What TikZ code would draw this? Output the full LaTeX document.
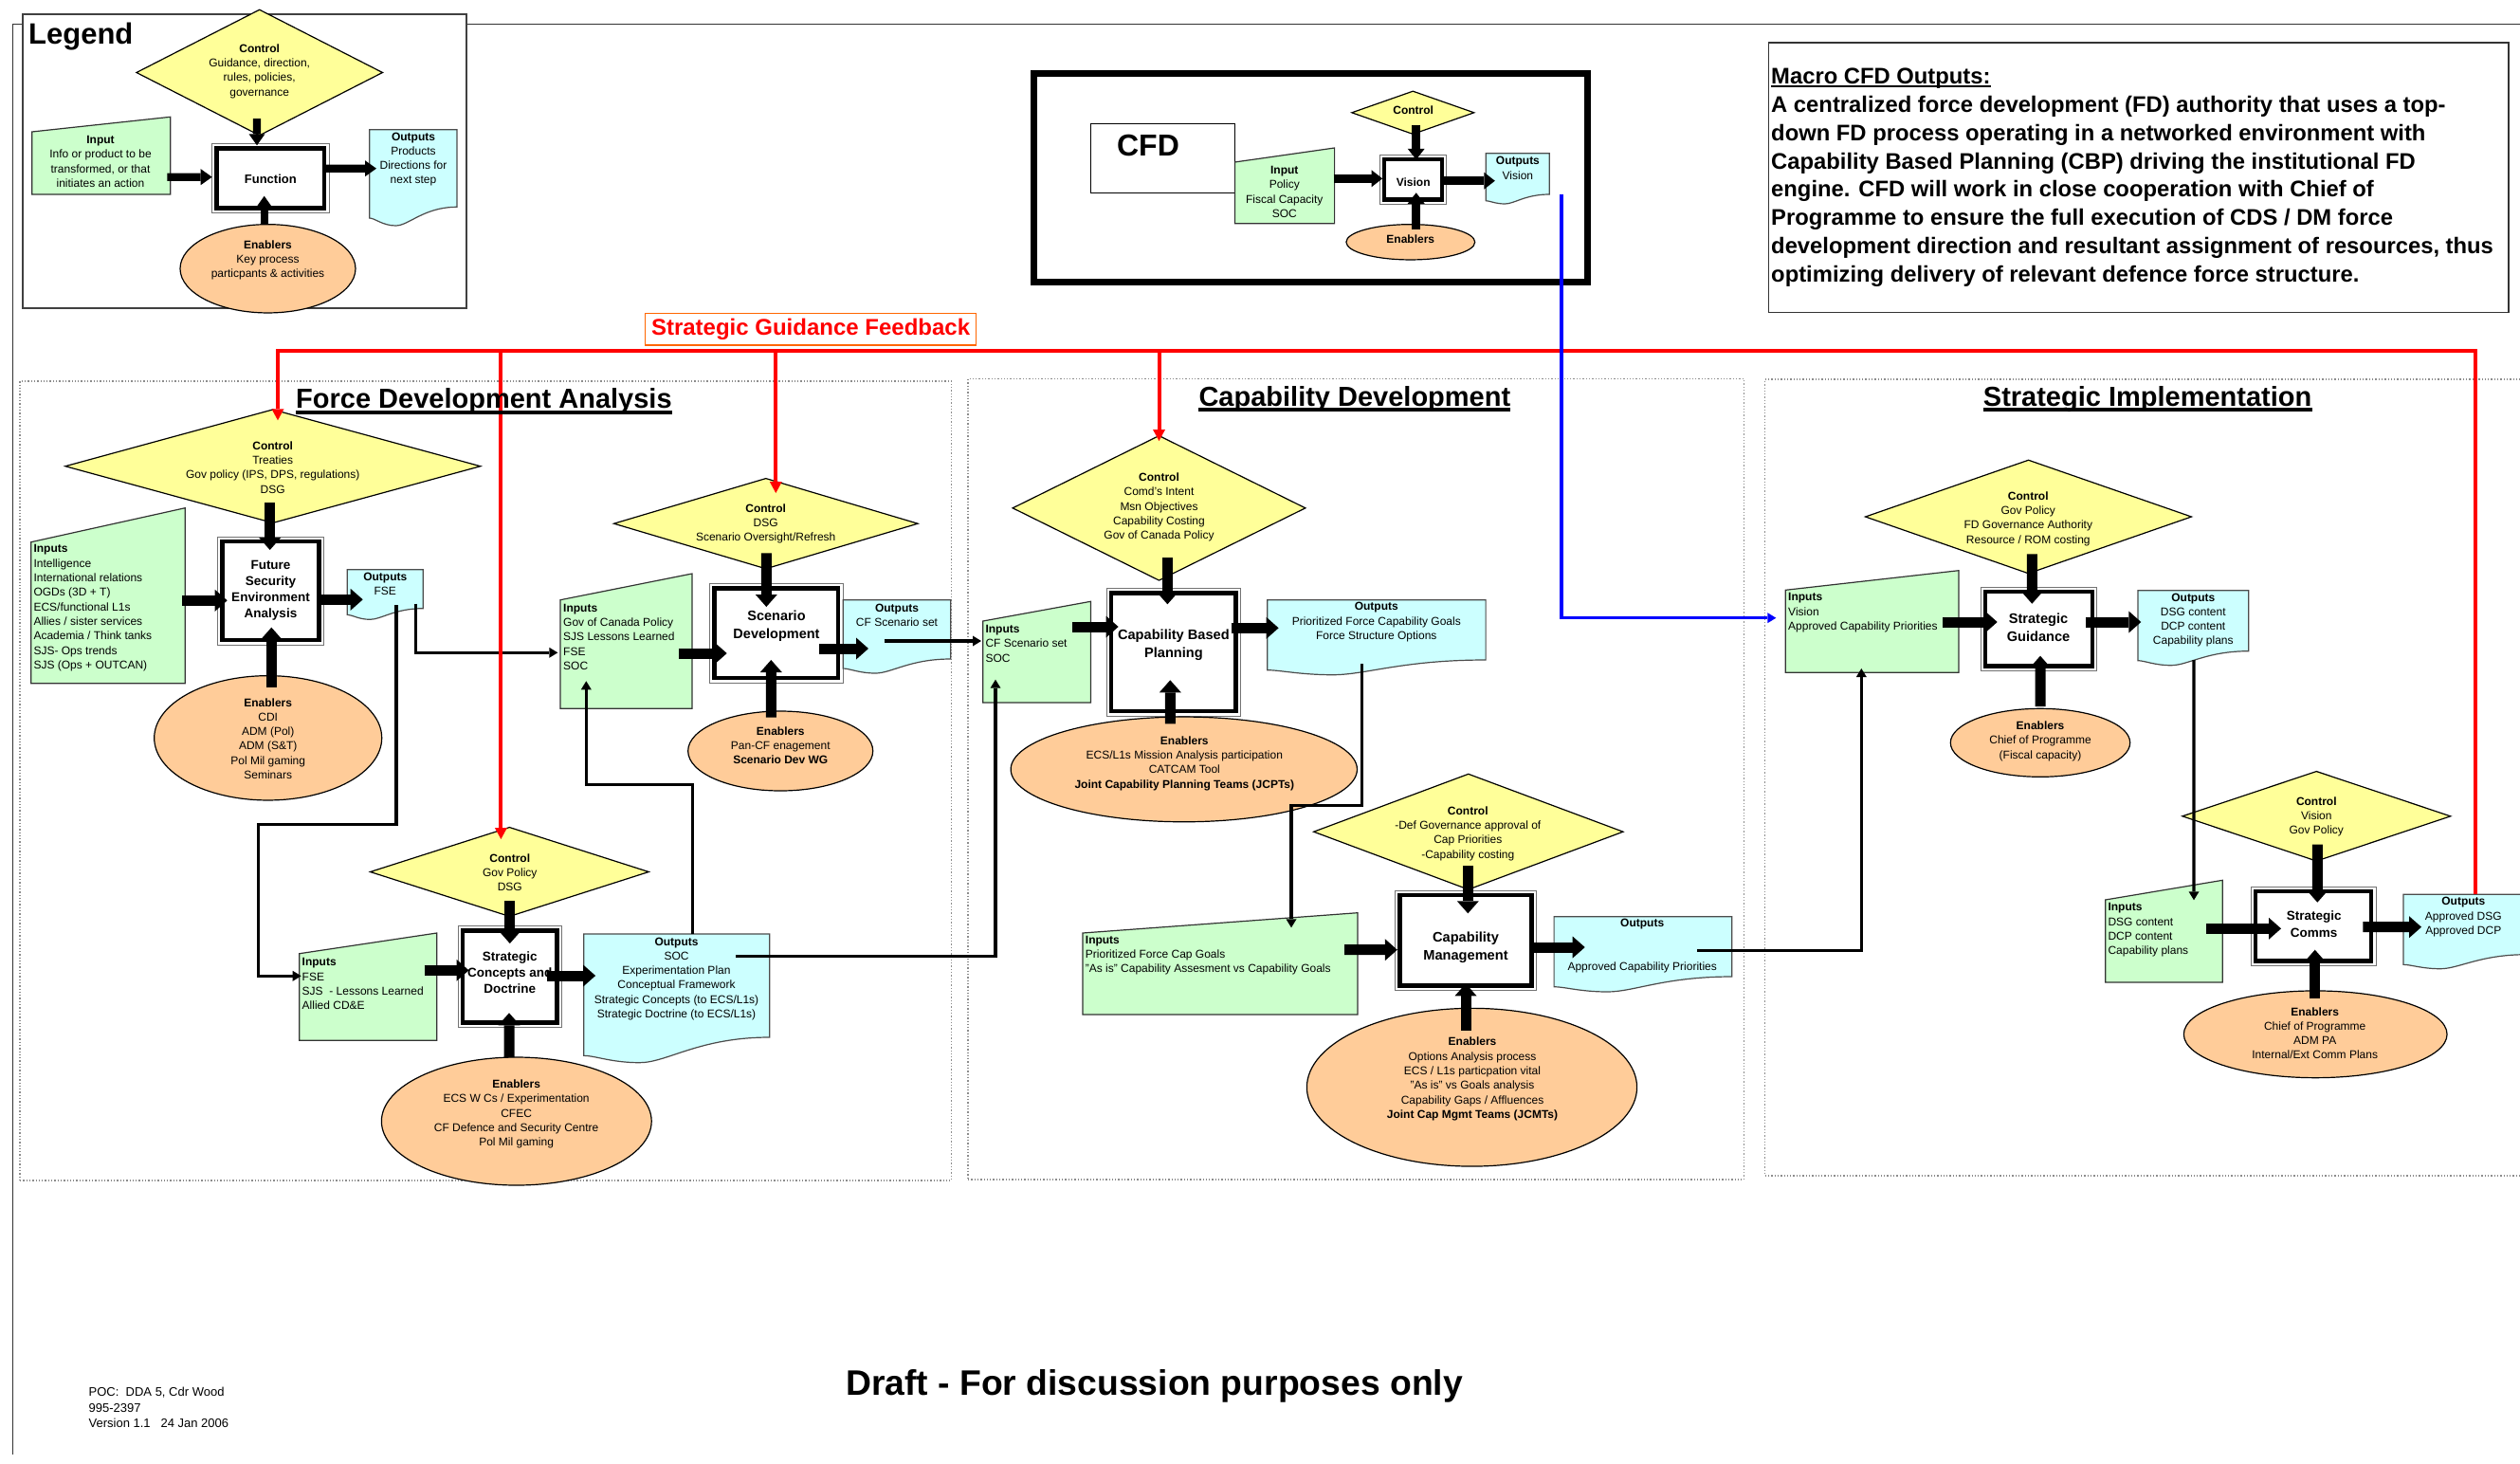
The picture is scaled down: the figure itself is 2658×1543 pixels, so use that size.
\documentclass[tikz,border=0pt]{standalone}
\usepackage{fontspec}
\setmainfont{Liberation Sans}
\usetikzlibrary{arrows.meta,shapes.geometric,fit,calc}
\definecolor{ctly}{RGB}{255,255,153}
\definecolor{ing}{RGB}{204,255,204}
\definecolor{outc}{RGB}{204,255,255}
\definecolor{enbp}{RGB}{255,204,153}
\definecolor{fbred}{RGB}{255,0,0}
\definecolor{fborange}{RGB}{255,102,0}
\definecolor{cfdblue}{RGB}{0,0,255}
\newcommand\smtxt{\fontsize{12}{15.3}\selectfont}
\newcommand\bxf[2]{\fontsize{#1}{#2}\selectfont\bfseries}
\newcommand\inshape[6]{%
  \draw[inp] (#2,#4) -- (#3,#5) -- (#3,#6) -- (#2,#6) -- cycle;
  \node[ghost, fit={(#2,#5) (#3,#6)}] (#1) {};}
\newcommand\docshape[7]{%
  \pgfmathsetmacro\mydw{#4-#2}%
  \draw[outp] (#2,#3) -- (#4,#3) -- (#4,#5)
    .. controls ({#2+0.62*\mydw},#5) and ({#2+0.45*\mydw},#7) .. ({#2+0.3*\mydw},#7)
    .. controls ({#2+0.15*\mydw},#7) and ({#2+0.06*\mydw},#6) .. (#2,#6) -- cycle;
  \node[ghost, fit={(#2,#3) (#4,#6)}] (#1) {};}
\newcommand\procbox[5]{%
  \draw[pframe] (#2,#3) rectangle (#4,#5);
  \node[fn, fit={({#2+4.8},{#3+4.8}) ({#4-4.8},{#5-4.8})}] (#1) {};}
\begin{document}
\begin{tikzpicture}[x=1pt,y=-1pt,
  ctl/.style={diamond, draw=black, line width=1.2pt, fill=ctly, inner sep=0pt},
  enb/.style={ellipse, draw=black, line width=1.2pt, fill=enbp, inner sep=0pt},
  inp/.style={draw=black!80, line width=1.2pt, fill=ing},
  outp/.style={draw=black!70, line width=1.2pt, fill=outc},
  fn/.style={rectangle, draw=black, line width=4.5pt, fill=white, inner sep=0pt},
  pframe/.style={draw=black!55, line width=1pt, fill=white},
  ghost/.style={inner sep=0pt, outer sep=0pt},
  txt/.style={align=center, inner sep=0pt, font=\smtxt},
  ltxt/.style={align=left, inner sep=0pt, font=\smtxt, anchor=west},
  big/.style={line width=11pt, -{Triangle[length=13pt,width=23pt,line width=0pt]}},
  legbig/.style={line width=8.3pt, -{Triangle[length=12pt,width=17pt,line width=0pt]}},
  cfdbig/.style={line width=9pt, -{Triangle[length=11.5pt,width=18pt,line width=0pt]}},
  conn/.style={line width=3.2pt, -{Triangle[length=9pt,width=11pt,line width=0pt]}},
  fbarrow/.style={draw=fbred, line width=4pt, -{Triangle[length=12pt,width=13pt,line width=0pt]}},
  blueline/.style={draw=cfdblue, line width=3.5pt, -{Triangle[length=9pt,width=11pt,line width=0pt]}},
  sect/.style={draw=black!45, dotted, line width=1.3pt},
  secttitle/.style={anchor=base west, inner sep=0pt, font=\bxf{29}{34}},
]
\useasboundingbox (0,0) rectangle (2658,1543);
\fill[white] (0,0) rectangle (2658,1543);

% page frame
\draw[line width=1pt, black!80] (13,1534) -- (13,25) -- (2658,25);

% section boxes
\node[sect, ghost, fit={(21,402) (1003.5,1245)}] (fdasec) {};
\node[sect, ghost, fit={(1021,399.5) (1839.3,1244)}] (cdsec) {};
\node[sect, ghost, fit={(1861.7,400) (2670,1240)}] (sisec) {};

% ================= LEGEND =================
\node[draw=black!75, line width=1.2pt, fill=white, ghost, fit={(24,15) (492,325)}] (legendbox) {};
\node[anchor=base west, inner sep=0pt, font=\bxf{31}{36}] (legendtitle) at (30,46) {Legend};
\node[ctl, minimum width=260pt, minimum height=133pt] (lgctl) at (273.7,76.5) {};
\node[txt] (lgctlt) at (273.7,75) {\textbf{Control}\\Guidance, direction,\\rules, policies,\\governance};
\inshape{lgin}{33.7}{179.7}{139}{123.3}{205}
\node[txt] (lgint) at (106,170.5) {\textbf{Input}\\Info or product to be\\transformed, or that\\initiates an action};
\procbox{lgfn}{223.7}{151.7}{347}{224.3}
\node[txt, font=\bxf{13}{16}] (lgfnt) at (285.3,189) {Function};
\docshape{lgout}{389.7}{136.7}{482}{218.3}{230}{238}
\node[txt] (lgoutt) at (436,168) {\textbf{Outputs}\\Products\\Directions for\\next step};
\node[enb, minimum width=185pt, minimum height=93.3pt] (lgenb) at (282.5,283.3) {};
\node[txt] (lgenbt) at (282.5,274.3) {\textbf{Enablers}\\Key process\\particpants \& activities};
\draw[legbig] ([shift={(-2.7,48.5)}]lgctl.center) -- ([shift={(-14.35,-34.7)}]lgfn.center);
\draw[legbig] ([shift={(69.6,22.55)}]lgin.center) -- ([shift={(-61.65,-1.3)}]lgfn.center);
\draw[legbig] ([shift={(56.65,-10.3)}]lgfn.center) -- ([shift={(-38.85,-5.65)}]lgout.center);
\draw[legbig] ([shift={(-3.8,-46.6)}]lgenb.center) -- ([shift={(-6.65,18.7)}]lgfn.center);

% ================= CFD =================
\node[draw=black, line width=6.7pt, ghost, fit={(1090.7,77.3) (1674.4,297.3)}] (cfdframe) {};
\node[draw=black, line width=1.3pt, fill=white, ghost, fit={(1150.8,130.7) (1302.4,203.3)}] (cfdbox) {};
\node[anchor=base, inner sep=0pt, font=\bxf{32}{38}] (cfdt) at (1211,164) {CFD};
\inshape{cfdin}{1302.4}{1407.6}{171}{156}{235.7}
\node[txt] (cfdint) at (1354.8,202.5) {\textbf{Input}\\Policy\\Fiscal Capacity\\SOC};
\node[ctl, minimum width=129.4pt, minimum height=45.7pt] (cfdctl) at (1490.3,118.8) {};
\node[txt] (cfdctlt) at (1490.7,116) {\textbf{Control}};
\procbox{cfdfn}{1455}{163.3}{1525.9}{215.3}
\node[txt, font=\bxf{12}{15}] (cfdfnt) at (1490.7,192.7) {Vision};
\docshape{cfdout}{1567.2}{161.7}{1634.2}{205}{211.7}{215}
\node[txt] (cfdoutt) at (1600.9,177.5) {\textbf{Outputs}\\Vision};
\node[enb, minimum width=135.8pt, minimum height=37.3pt] (cfdenb) at (1487.8,255.3) {};
\node[txt] (cfdenbt) at (1487.8,252.3) {\textbf{Enablers}};
\draw[cfdbig] ([shift={(3.4,12.9)}]cfdctl.center) -- ([shift={(3.25,-21)}]cfdfn.center);
\draw[cfdbig] ([shift={(51.5,-7.55)}]cfdin.center) -- ([shift={(-32.35,-1)}]cfdfn.center);
\draw[cfdbig] ([shift={(32.75,1.4)}]cfdfn.center) -- ([shift={(-23.9,4)}]cfdout.center);
\draw[cfdbig] ([shift={(5.9,-13.6)}]cfdenb.center) -- ([shift={(3.25,14)}]cfdfn.center);

% ================= MACRO TEXT =================
\node[draw=black!80, line width=1.3pt, ghost, fit={(1865.5,45) (2646,329.3)}] (macrobox) {};
\node[anchor=base west, inner sep=0pt, font=\bxf{23.8}{29.8}] (macroh) at (1868,88.5) {Macro CFD Outputs:};
\draw[line width=2pt] ([yshift=-2.6pt]macroh.base west) -- ([yshift=-2.6pt]macroh.base east);
\node[anchor=north west, align=left, inner sep=0pt, font=\bxf{23.8}{29.8}] (macrot) at (1868,101)
 {A centralized force development (FD) authority that uses a top-\\down FD process operating in a networked environment with\\Capability Based Planning (CBP) driving the institutional FD\\engine. CFD will work in close cooperation with Chief of\\Programme to ensure the full execution of CDS / DM force\\development direction and resultant assignment of resources, thus\\optimizing delivery of relevant defence force structure.};

% ================= FSEA =================
\node[ctl, minimum width=438.3pt, minimum height=120pt] (fsectl) at (287.8,491.7) {};
\node[txt] (fsectlt) at (287.7,493) {\textbf{Control}\\Treaties\\Gov policy (IPS, DPS, regulations)\\DSG};
\inshape{fsein}{32.7}{195.3}{571.7}{535.7}{720.7}
\node[ltxt] (fseint) at (35.3,641.3) {\textbf{Inputs}\\Intelligence\\International relations\\OGDs (3D + T)\\ECS/functional L1s\\Allies / sister services\\Academia / Think tanks\\SJS- Ops trends\\SJS (Ops + OUTCAN)};
\procbox{fse}{229.7}{566}{341.3}{680}
\node[txt, font=\bxf{13.5}{17}] (fset) at (285.5,622.8) {Future\\Security\\Environment\\Analysis};
\docshape{fseout}{366.3}{600.7}{446.3}{641.7}{648.3}{653.3}
\node[txt] (fseoutt) at (406.3,616.2) {\textbf{Outputs}\\FSE};
\node[enb, minimum width=240pt, minimum height=131.3pt] (fseenb) at (282.7,778.3) {};
\node[txt] (fseenbt) at (282.7,779) {\textbf{Enablers}\\CDI\\ADM (Pol)\\ADM (S\&T)\\Pol Mil gaming\\Seminars};

% ================= SD =================
\node[ctl, minimum width=321pt, minimum height=95.7pt] (sdctl) at (807.8,552.2) {};
\node[txt] (sdctlt) at (807.7,552.2) {\textbf{Control}\\DSG\\Scenario Oversight/Refresh};
\inshape{sdin}{591}{730}{632.7}{605}{747.3}
\node[ltxt] (sdint) at (594,671.8) {\textbf{Inputs}\\Gov of Canada Policy\\SJS Lessons Learned\\FSE\\SOC};
\procbox{sd}{748.7}{615.7}{889}{720}
\node[txt, font=\bxf{14.5}{19}] (sdt) at (819,660.5) {Scenario\\Development};
\docshape{sdout}{889.3}{632.7}{1002.7}{695}{705}{710}
\node[txt] (sdoutt) at (946,648.8) {\textbf{Outputs}\\CF Scenario set};
\node[enb, minimum width=195pt, minimum height=84pt] (sdenb) at (823.2,792) {};
\node[txt] (sdenbt) at (823.3,786.3) {\textbf{Enablers}\\Pan-CF enagement\\\textbf{Scenario Dev WG}};

% ================= SCD =================
\node[ctl, minimum width=294.2pt, minimum height=94.4pt] (scdctl) at (537.4,919.5) {};
\node[txt] (scdctlt) at (537.8,920) {\textbf{Control}\\Gov Policy\\DSG};
\inshape{scdin}{315.8}{460.7}{1005.7}{984}{1097.3}
\node[ltxt] (scdint) at (318.5,1037.8) {\textbf{Inputs}\\FSE\\SJS \ - Lessons Learned\\Allied CD\&E};
\procbox{scd}{483.3}{976.7}{592.4}{1083.3}
\node[txt, font=\bxf{13.5}{17}] (scdt) at (537.8,1025.3) {Strategic\\Concepts and\\Doctrine};
\docshape{scdout}{615.7}{985}{811.7}{1094}{1113.3}{1120.7}
\node[txt] (scdoutt) at (713.5,1032.3) {\textbf{Outputs}\\SOC\\Experimentation Plan\\Conceptual Framework\\Strategic Concepts (to ECS/L1s)\\Strategic Doctrine (to ECS/L1s)};
\node[enb, minimum width=284.8pt, minimum height=135pt] (scdenb) at (544.8,1182.5) {};
\node[txt] (scdenbt) at (544.6,1174.9) {\textbf{Enablers}\\ECS W Cs / Experimentation\\CFEC\\CF Defence and Security Centre\\Pol Mil gaming};

% ================= CBP =================
\node[ctl, minimum width=309.2pt, minimum height=153pt] (cbpctl) at (1222.5,535.8) {};
\node[txt] (cbpctlt) at (1222.5,534.9) {\textbf{Control}\\Comd's Intent\\Msn Objectives\\Capability Costing\\Gov of Canada Policy};
\inshape{cbpin}{1036.8}{1150.4}{655}{634.3}{741}
\node[ltxt] (cbpint) at (1039.3,678.7) {\textbf{Inputs}\\CF Scenario set\\SOC};
\procbox{cbp}{1167.1}{620.7}{1308.2}{755}
\node[txt, font=\bxf{14.6}{19.3}] (cbpt) at (1237.9,680.5) {Capability Based\\Planning};
\docshape{cbpout}{1336.8}{632.7}{1567.1}{696}{706.7}{711.7}
\node[txt] (cbpoutt) at (1451.8,656.2) {\textbf{Outputs}\\Prioritized Force Capability Goals\\Force Structure Options};
\node[enb, minimum width=365.3pt, minimum height=110.7pt] (cbpenb) at (1248.8,811.4) {};
\node[txt] (cbpenbt) at (1249.3,805) {\textbf{Enablers}\\ECS/L1s Mission Analysis participation\\CATCAM Tool\\\textbf{Joint Capability Planning Teams (JCPTs)}};

% ================= CM =================
\node[ctl, minimum width=326.8pt, minimum height=122.3pt] (cmctl) at (1548.8,877.2) {};
\node[txt] (cmctlt) at (1548.3,879) {\textbf{Control}\\-Def Governance approval of\\Cap Priorities\\-Capability costing};
\inshape{cmin}{1141.9}{1431.9}{984}{962.7}{1070}
\node[ltxt] (cmint) at (1144.7,1007.5) {\textbf{Inputs}\\Prioritized Force Cap Goals\\"As is" Capability Assesment vs Capability Goals};
\procbox{cm}{1471.5}{939.3}{1620.5}{1044.3}
\node[txt, font=\bxf{14.6}{19.3}] (cmt) at (1546,999.5) {Capability\\Management};
\docshape{cmout}{1639.1}{966.7}{1826.7}{1030}{1040.7}{1046}
\node[txt] (cmoutt) at (1732.2,998) {\textbf{Outputs}\\[30.7pt]Approved Capability Priorities};
\node[enb, minimum width=348.2pt, minimum height=166.7pt] (cmenb) at (1552.5,1146.7) {};
\node[txt] (cmenbt) at (1553,1138) {\textbf{Enablers}\\Options Analysis process\\ECS / L1s particpation vital\\"As is" vs Goals analysis\\Capability Gaps / Affluences\\\textbf{Joint Cap Mgmt Teams (JCMTs)}};

% ================= SG =================
\node[ctl, minimum width=344.4pt, minimum height=120pt] (sgctl) at (2139.5,545) {};
\node[txt] (sgctlt) at (2139.3,547) {\textbf{Control}\\Gov Policy\\FD Governance Authority\\Resource / ROM costing};
\inshape{sgin}{1883.3}{2066}{622.3}{601.7}{709.3}
\node[ltxt] (sgint) at (1886,646.2) {\textbf{Inputs}\\Vision\\Approved Capability Priorities};
\procbox{sg}{2089}{619.3}{2211.7}{707.3}
\node[txt, font=\bxf{14.6}{18.7}] (sgt) at (2150,661.7) {Strategic\\Guidance};
\docshape{sgout}{2255}{622.7}{2371.7}{686.7}{696.7}{701.7}
\node[txt] (sgoutt) at (2313.3,654) {\textbf{Outputs}\\DSG content\\DCP content\\Capability plans};
\node[enb, minimum width=189.4pt, minimum height=72pt] (sgenb) at (2152,783.3) {};
\node[txt] (sgenbt) at (2152,781.7) {\textbf{Enablers}\\Chief of Programme\\(Fiscal capacity)};

% ================= SC =================
\node[ctl, minimum width=283.3pt, minimum height=95pt] (scctl) at (2443.3,860.8) {};
\node[txt] (scctlt) at (2443.3,861.2) {\textbf{Control}\\Vision\\Gov Policy};
\inshape{scin}{2220.7}{2344.3}{949}{928.3}{1036}
\node[ltxt] (scint) at (2223.3,980.8) {\textbf{Inputs}\\DSG content\\DCP content\\Capability plans};
\procbox{sc}{2374.3}{935}{2506}{1018.3}
\node[txt, font=\bxf{13.5}{17.3}] (sct) at (2440.7,974.7) {Strategic\\Comms};
\docshape{scout}{2535}{943.3}{2665}{1006.7}{1017.3}{1021.7}
\node[txt] (scoutt) at (2598.3,967.2) {\textbf{Outputs}\\Approved DSG\\Approved DCP};
\node[enb, minimum width=277.7pt, minimum height=91.7pt] (scenb) at (2442.2,1090.8) {};
\node[txt] (scenbt) at (2441.7,1089.7) {\textbf{Enablers}\\Chief of Programme\\ADM PA\\Internal/Ext Comm Plans};

% ================= BIG ARROWS =================
\draw[big] ([shift={(-3.1,38.3)}]fsectl.center) -- ([shift={(-0.8,-43)}]fse.center);
\draw[big] ([shift={(78,5.1)}]fsein.center) -- ([shift={(-45.8,10.3)}]fse.center);
\draw[big] ([shift={(49.8,9.3)}]fse.center) -- ([shift={(-23.6,7.8)}]fseout.center);
\draw[big] ([shift={(3.6,-53.3)}]fseenb.center) -- ([shift={(0.8,38.7)}]fse.center);

\draw[big] ([shift={(0.5,31.1)}]sdctl.center) -- ([shift={(-10.55,-27.85)}]sd.center);
\draw[big] ([shift={(55.5,12.85)}]sdin.center) -- ([shift={(-52.15,21.15)}]sd.center);
\draw[big] ([shift={(45.15,16.15)}]sd.center) -- ([shift={(-30,15.15)}]sdout.center);
\draw[big] ([shift={(-9.9,-35.3)}]sdenb.center) -- ([shift={(-5.55,28.15)}]sd.center);

\draw[big] ([shift={(0.4,30.5)}]scdctl.center) -- ([shift={(-0.05,-35)}]scd.center);
\draw[big] ([shift={(59.25,-17.35)}]scdin.center) -- ([shift={(-43.35,-6.7)}]scd.center);
\draw[big] ([shift={(38.75,-1)}]scd.center) -- ([shift={(-85.6,-20.15)}]scdout.center);
\draw[big] ([shift={(-7.8,-67.5)}]scdenb.center) -- ([shift={(-0.85,38.3)}]scd.center);

\draw[big] ([shift={(8.9,52.5)}]cbpctl.center) -- ([shift={(-6.25,-50.55)}]cbp.center);
\draw[big] ([shift={(37.8,-26.65)}]cbpin.center) -- ([shift={(-58.05,-26.85)}]cbp.center);
\draw[big] ([shift={(60.95,-25.55)}]cbp.center) -- ([shift={(-103.35,-7.4)}]cbpout.center);
\draw[big] ([shift={(-14.5,-48.1)}]cbpenb.center) -- ([shift={(-3.35,29.45)}]cbp.center);

\draw[big] ([shift={(-0.5,36.1)}]cmctl.center) -- ([shift={(2.3,-28.5)}]cm.center);
\draw[big] ([shift={(131.1,-14.65)}]cmin.center) -- ([shift={(-72.2,9.9)}]cm.center);
\draw[big] ([shift={(67.5,7.2)}]cm.center) -- ([shift={(-61.2,-4.7)}]cmout.center);
\draw[big] ([shift={(-6.5,-60)}]cmenb.center) -- ([shift={(0,45.5)}]cm.center);

\draw[big] ([shift={(3.8,39.3)}]sgctl.center) -- ([shift={(-7.05,-26.6)}]sg.center);
\draw[big] ([shift={(74.35,0.5)}]sgin.center) -- ([shift={(-43.65,-7.3)}]sg.center);
\draw[big] ([shift={(49.65,-7.3)}]sg.center) -- ([shift={(-55.05,-3.7)}]sgout.center);
\draw[big] ([shift={(0,-38.3)}]sgenb.center) -- ([shift={(1.65,28.4)}]sg.center);

\draw[big] ([shift={(1,29.9)}]scctl.center) -- ([shift={(4.15,-24.95)}]sc.center);
\draw[big] ([shift={(44.8,-2.85)}]scin.center) -- ([shift={(-34.15,2.65)}]sc.center);
\draw[big] ([shift={(52.15,1.05)}]sc.center) -- ([shift={(-46,-2.6)}]scout.center);
\draw[big] ([shift={(-0.5,-38.1)}]scenb.center) -- ([shift={(1.55,25.05)}]sc.center);

% ================= CONNECTORS =================
\draw[conn] ([shift={(32.4,12.2)}]fseout.center) |- ([shift={(-72.2,12.15)}]sdin.center);
\draw[conn] ([shift={(11.7,13.8)}]fseout.center) -- ++(0,231) -- ++(-145.4,0) |- ([shift={(-70.55,-11.35)}]scdin.center);
\draw[conn] ([shift={(-13.3,7.15)}]sdout.center) -- ([shift={(-58.6,-11.65)}]cbpin.center);
\draw[conn] ([shift={(17.1,-64.15)}]scdout.center) -- ++(0,-157.7) -| ([shift={(-42.2,42.15)}]sdin.center);
\draw[conn] ([shift={(62.3,-40.85)}]scdout.center) -| ([shift={(-43.6,29.05)}]cbpin.center);
\draw[conn] ([shift={(-15.15,30.3)}]cbpout.center) -- ++(0,149.3) -| ([shift={(75.1,-38.05)}]cmin.center);
\draw[conn] ([shift={(57.5,-1.4)}]cmout.center) -| ([shift={(-11.35,49.5)}]sgin.center);
\draw[conn] ([shift={(0.65,36.3)}]sgout.center) -- ([shift={(31.5,-32.85)}]scin.center);

% ================= FEEDBACK (red) =================
\draw[fbarrow] ([shift={(11,-37)}]scout.center) -- ++(0,-573.3) -| ([shift={(5.2,-48.4)}]fsectl.center);
\draw[fbarrow] ([shift={(-9,-549.5)}]scdctl.center) -- ([shift={(-9,-34.5)}]scdctl.center);
\draw[fbarrow] ([shift={(10.5,-182.2)}]sdctl.center) -- ([shift={(10.5,-32.2)}]sdctl.center);
\draw[fbarrow] ([shift={(0,-165.8)}]cbpctl.center) -- ([shift={(0,-70.8)}]cbpctl.center);
\node[draw=fborange, line width=1.3pt, fill=white, text=fbred, font=\bxf{24}{28}, minimum width=349pt, minimum height=33.3pt, inner sep=0pt] (sgfb) at (855.1,347.4) {Strategic Guidance Feedback};

% ================= CFD vision link (blue) =================
\draw[blueline] ([shift={(46.1,18.3)}]cfdout.center) |- ([shift={(-101.35,-3.8)}]sgin.center);

% ================= SECTION TITLES =================
\node[secttitle] (fdatitle) at (312,430.7) {Force Development Analysis};
\draw[line width=4pt] ([yshift=-4pt]fdatitle.base west) -- ([yshift=-4pt]fdatitle.base east);
\node[secttitle] (cdtitle) at (1264.3,428.3) {Capability Development};
\draw[line width=4pt] ([yshift=-4pt]cdtitle.base west) -- ([yshift=-4pt]cdtitle.base east);
\node[secttitle] (sititle) at (2091.7,428.3) {Strategic Implementation};
\draw[line width=4pt] ([yshift=-4pt]sititle.base west) -- ([yshift=-4pt]sititle.base east);

% ================= FOOTER =================
\node[anchor=west, align=left, inner sep=0pt, font=\fontsize{13}{16.2}\selectfont] (poc) at (93.5,1484.5) {POC:\ \ DDA 5, Cdr Wood\\995-2397\\Version 1.1\ \ \ 24 Jan 2006};
\node[anchor=base, inner sep=0pt, font=\bxf{37.3}{44}] (draft) at (1217.5,1471) {Draft - For discussion purposes only};
\end{tikzpicture}
\end{document}
